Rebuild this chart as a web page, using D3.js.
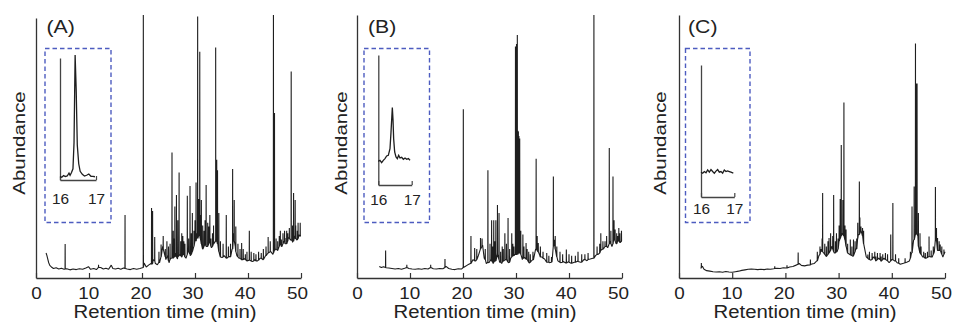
<!DOCTYPE html>
<html><head><meta charset="utf-8">
<script src="https://cdn.jsdelivr.net/npm/d3@7"></script>
<style>
body{margin:0;background:#fff}
svg{display:block}
text{font-family:"Liberation Sans",Arial,Helvetica,sans-serif;fill:#222}
</style>
</head><body>
<svg id="chart" width="953" height="323"></svg>
<script>
// ---------------- DATA ----------------
const panelLabels = ["(A)", "(B)", "(C)"];
const xTicks = [0, 10, 20, 30, 40, 50];
const insetTicks = [16, 17];
const xTitle = "Retention time (min)";
const yTitle = "Abundance";

// baseline traces [time (min), abundance %]
const baselineA = [[1.9,9.5],[2.05,8.6],[2.2,7.4],[2.4,5.8],[2.6,4.8],[2.9,4.2],[3.3,3.6],[3.8,3.9],[4.3,3.4],[4.8,3.7],[5.3,3.3],[5.8,3.5],[6.4,3.1],[7.0,3.4],[7.6,3.2],[8.2,3.5],[8.8,3.3],[9.4,3.8],[9.9,4.3],[10.3,3.3],[10.9,3.6],[11.4,3.2],[11.8,4.6],[12.2,4.0],[12.7,3.4],[13.2,3.7],[13.7,3.3],[14.2,4.9],[14.5,3.6],[15.0,3.4],[15.5,3.7],[16.0,3.3],[16.5,3.8],[17.2,3.4],[17.8,3.2],[18.4,3.6],[19.0,3.3],[19.6,3.6],[20.4,5.7],[20.8,4.2],[21.3,5.0],[21.7,5.5],[22.1,7.0],[22.5,5.6],[22.9,5.0],[23.3,5.8],[23.6,10.5],[23.9,12.0],[24.2,9.5],[24.5,7.0],[24.8,8.5],[25.1,5.8],[25.4,7.5],[25.8,8.0],[26.3,9.5],[26.7,7.2],[27.1,9.0],[27.5,8.0],[27.9,9.5],[28.3,7.5],[28.7,11.5],[29.1,8.5],[29.5,10.0],[29.8,12.5],[30.1,15.5],[30.4,17.0],[30.8,18.0],[31.1,14.0],[31.5,11.0],[31.9,13.0],[32.3,12.0],[32.7,14.5],[33.1,11.5],[33.5,13.0],[33.9,15.0],[34.3,13.0],[34.7,8.5],[35.1,7.8],[35.5,8.5],[36.0,7.5],[36.5,8.2],[37.0,11.0],[37.3,17.0],[37.6,12.0],[37.9,8.5],[38.3,7.5],[38.8,6.8],[39.3,7.4],[39.8,6.5],[40.3,6.8],[40.8,6.3],[41.3,7.0],[41.8,6.5],[42.3,7.5],[42.8,7.0],[43.3,8.5],[43.8,9.5],[44.3,10.0],[44.7,9.0],[45.2,11.0],[45.6,10.5],[46.0,13.5],[46.4,12.0],[46.8,14.0],[47.2,13.0],[47.6,15.5],[48.0,14.5],[48.4,13.5],[48.8,16.0],[49.2,14.5],[49.6,16.5],[50.0,16.0]];
const baselineB = [[4.2,4.4],[4.6,4.0],[5.0,4.3],[5.5,3.9],[6.0,3.8],[6.6,3.6],[7.2,3.4],[7.8,3.6],[8.4,3.3],[9.0,3.7],[9.4,4.6],[9.8,3.6],[10.4,3.4],[11.0,3.3],[11.6,3.5],[12.2,3.3],[12.8,3.6],[13.4,3.4],[13.9,4.2],[14.4,3.5],[15.0,3.4],[15.6,3.6],[16.2,3.5],[16.8,4.4],[17.3,3.6],[17.9,3.3],[18.5,3.2],[19.1,3.5],[19.7,3.4],[20.4,4.4],[20.9,5.0],[21.4,5.5],[21.9,7.0],[22.4,6.5],[22.9,8.5],[23.3,11.5],[23.7,12.5],[24.0,7.5],[24.4,5.5],[24.9,5.8],[25.3,7.0],[25.7,5.5],[26.1,6.5],[26.5,9.5],[26.9,6.0],[27.3,5.5],[27.7,6.5],[28.1,7.0],[28.6,5.8],[29.0,7.5],[29.4,8.5],[29.8,9.0],[30.3,9.5],[30.8,9.5],[31.2,7.0],[31.6,7.8],[32.0,7.2],[32.5,5.7],[32.9,6.5],[33.3,7.0],[33.7,11.0],[34.1,10.0],[34.5,8.5],[34.9,8.0],[35.4,7.2],[35.8,6.0],[36.3,5.8],[36.8,6.2],[37.2,14.5],[37.5,10.0],[37.9,6.5],[38.4,5.8],[38.9,6.3],[39.4,5.7],[39.9,6.2],[40.4,5.6],[41.0,6.0],[41.6,6.4],[42.2,6.0],[42.8,7.0],[43.4,6.6],[44.0,7.2],[44.5,7.5],[45.0,8.5],[45.5,9.0],[46.0,10.5],[46.5,11.0],[46.9,12.0],[47.3,11.5],[47.7,14.0],[48.1,12.0],[48.5,15.5],[48.9,13.0],[49.3,14.5],[49.7,13.5],[50.0,14.0]];
const baselineC = [[4.1,3.6],[4.2,5.0],[4.4,4.5],[4.7,3.3],[5.2,2.8],[5.8,2.6],[6.4,2.4],[7.0,2.3],[7.6,2.4],[8.2,2.2],[8.8,2.5],[9.4,2.3],[10.0,2.2],[10.6,2.4],[11.2,2.6],[11.8,2.9],[12.4,3.1],[13.0,3.3],[13.6,3.4],[14.2,3.3],[14.8,3.2],[15.4,3.3],[16.0,3.2],[16.6,3.4],[17.2,3.3],[17.8,3.5],[18.4,3.7],[19.0,3.6],[19.6,3.9],[20.2,3.8],[20.8,4.2],[21.4,4.4],[21.9,4.8],[22.6,5.5],[23.0,4.8],[23.6,4.6],[24.2,4.9],[24.8,5.2],[25.4,5.5],[25.9,6.5],[26.3,8.5],[26.7,11.0],[27.2,9.5],[27.7,8.2],[28.2,9.5],[28.7,12.0],[29.2,9.5],[29.7,10.0],[30.2,14.5],[30.7,17.0],[31.2,14.5],[31.7,9.5],[32.2,8.8],[32.7,8.2],[33.2,11.0],[33.7,16.5],[34.2,18.0],[34.7,13.0],[35.2,8.0],[35.6,7.2],[36.0,6.8],[36.5,8.0],[37.0,6.5],[37.5,7.6],[38.0,6.4],[38.5,7.5],[39.0,6.8],[39.5,5.8],[40.0,7.0],[40.5,6.5],[41.0,5.8],[41.6,5.2],[42.2,5.6],[42.8,6.0],[43.3,6.5],[43.7,9.5],[44.1,14.5],[44.5,17.0],[44.9,16.0],[45.3,9.5],[45.8,8.0],[46.4,7.5],[47.0,8.2],[47.6,8.0],[48.0,10.0],[48.3,14.5],[48.6,10.5],[49.1,10.5],[49.6,8.0],[50.0,10.0]];

// peaks [time (min), base abundance, apex abundance]
const peaksA = [[5.5,3.4,12.9],[11.8,4.0,5.0],[16.8,3.6,24.0],[20.25,4.0,100],[21.8,5.2,26.6],[22.0,5.5,25.5],[22.4,6.5,15.6],[23.2,6,10],[23.6,8,12.7],[24.0,11,16],[24.4,8,11],[24.7,8,14],[25.0,6.5,12],[25.3,7,13],[25.66,7.5,47.7],[25.9,7.5,18],[26.0,8,15],[26.2,8,27.2],[26.5,8,31.6],[26.75,8,22],[27.0,8.5,40.1],[27.3,8.5,14],[27.5,8,17],[27.7,9,16],[27.9,9,14],[28.1,8,13],[28.55,9,31.3],[28.8,10,15],[29.06,9,35],[29.3,9,17],[29.5,10,24.7],[29.8,12,18],[30.0,14,22],[30.2,14,36.3],[30.5,15,99.4],[30.7,16,30],[30.9,16,86],[31.0,15,24],[31.2,13,29.7],[31.45,11,20],[31.7,12,18],[31.9,13,22],[32.1,12,35.4],[32.4,12,21],[32.6,13,19.6],[32.8,14,24],[33.0,12,15],[33.3,12,17],[33.5,13,20],[33.9,14,87.6],[34.1,14,45],[34.25,13,41],[34.5,10,24.7],[34.8,8,14],[35.3,8,13],[35.9,7.5,24],[36.3,8,12],[36.7,8,13],[37.1,11,41.4],[37.4,14,29.7],[37.7,10,19.6],[38.1,8,13],[38.5,7.5,11],[38.8,7,13.3],[39.1,7,11],[39.5,7,9],[39.8,6.5,10],[40.25,6.8,18],[40.6,6.5,10],[41.1,6.5,9.5],[41.5,6.5,9],[42.0,6.8,10],[42.5,7.5,9.5],[42.9,7,11],[43.4,8.5,12],[43.8,9.5,15.6],[44.2,10,14],[44.8,9.5,100],[45.0,10.5,62.7],[45.3,11,15],[45.6,10.5,14],[45.9,12,16],[46.1,13,18],[46.3,12,14.6],[46.6,13,17],[46.9,14,18],[47.0,13,15.2],[47.3,13,18],[47.5,14,17],[47.8,15,19],[48.15,14.5,78.5],[48.4,14,20],[48.6,14,32.3],[48.9,15,29.7],[49.0,15,20],[49.3,14.5,18],[49.45,15,21],[49.6,16,16.5],[49.85,16,21]];
const peaksB = [[5.4,4,10.5],[9.4,4,5],[13.9,4,5],[16.6,4,7.2],[20.06,4,64.2],[21.5,5.5,16],[22.2,6.5,11.4],[22.6,7,11],[23.3,11,15.2],[23.6,12,15],[24.2,7,11],[24.7,6,41],[25.1,6.5,13],[25.4,6.5,22],[25.6,6,12],[25.8,6,22],[26.0,6.5,14],[26.2,6.5,22],[26.5,9,27.8],[26.8,7,24.7],[27.1,6,10],[27.4,6,12],[27.6,6.5,11],[27.9,6.8,17],[28.2,7,13],[28.5,6,22.8],[28.8,6,11],[29.2,8,17],[29.4,8.5,13],[29.6,8.5,12],[29.9,9,88],[30.1,9,89],[30.25,9,92.4],[30.35,9,56],[30.45,9.5,55.7],[30.55,9.5,54],[30.7,9.5,53],[30.9,9,18],[31.3,7.5,16.5],[31.5,7.5,12],[31.9,7.2,13.3],[32.1,7,11],[32.4,6,10],[32.7,6,9],[33.2,7,10],[33.8,11,45.3],[34.0,10.5,16],[34.2,10,13.3],[34.6,8,12],[35.1,7.5,10],[35.8,6,9.5],[36.2,6,8.5],[36.7,6,8],[37.05,12,38.6],[37.4,11,16],[37.7,8,12],[38.3,6,10],[38.8,6,9],[39.5,5.7,10.8],[40.0,6,9],[40.5,5.6,8.5],[41.2,6,8.5],[41.7,6.3,10],[42.4,6,9],[43.0,7,9],[43.6,7,9.5],[44.7,7.5,100],[45.3,9,12],[45.8,9.5,13],[46.0,10.5,17],[46.4,11,14],[46.8,12,14],[47.1,12,16],[47.6,13,49.4],[47.9,13,18],[48.3,13,38.6],[48.5,15.5,22],[48.7,14,18.4],[49.0,13,17],[49.2,14,16],[49.4,14,19],[49.6,13.5,17],[49.9,14,18]];
const peaksC = [[4.2,4,5.7],[18.0,3.6,4.5],[20.3,3.8,4.8],[22.4,5.2,9.7],[24.7,5,7],[26.0,6.5,10],[26.5,9,12],[26.9,10,15],[27.0,10,32.3],[27.4,9,13],[27.7,8.2,12],[28.0,9,14],[28.2,9.5,15.2],[28.5,10.5,17],[28.9,11,16],[29.07,10,31.6],[29.4,9.5,14],[29.6,10,17],[29.9,11,15],[30.1,14,20],[30.3,15,30],[30.5,16,50.6],[30.8,16.5,29.7],[31.0,16,66.7],[31.2,14.5,20],[31.4,12,18.4],[31.7,9.5,13],[32.2,8.8,14.6],[32.5,8.5,12],[32.8,8.5,14.6],[33.1,10,14],[33.4,11,15],[33.6,15,21],[33.9,16.5,36.7],[34.0,17,23],[34.2,18,19.6],[34.5,16,19],[34.7,13,18],[35.5,7.5,8.9],[35.8,7,10],[36.3,7,9.5],[36.8,7.5,10],[37.0,6.5,8.2],[37.3,7,9.5],[37.8,7,9.5],[38.0,6.4,8.2],[38.3,7,9],[38.8,7,9.5],[39.2,6.5,9],[39.8,6.5,16.5],[40.2,7,28.5],[40.7,6.5,9],[41.3,5.6,7.5],[42.5,5.8,7.5],[43.5,7.5,10],[43.8,9.5,27.2],[44.2,14.5,34.8],[44.45,16.5,89.2],[44.55,17,74],[44.65,17,74],[44.75,16.5,74],[45.0,12,24.7],[45.3,9.5,17],[45.5,9,12],[46.0,8,10],[46.3,7.5,9.5],[46.7,7.8,10],[47.0,8.2,15.8],[47.4,8,10.5],[47.8,9,12],[48.2,14.5,34.6],[48.4,14,19],[48.6,10.5,15.2],[48.9,10.5,14],[49.1,10.5,12.7],[49.4,9,12],[49.8,9,10.8]];

// inset traces (16–17 min), [time, relative abundance %]
const insetA = [[16.00,2.7],[16.05,2.2],[16.10,3.5],[16.15,2.8],[16.20,3.2],[16.25,5.5],[16.28,3.8],[16.32,6.0],[16.36,9.0],[16.39,30],[16.42,100],[16.45,72],[16.48,28],[16.52,13],[16.56,7],[16.62,4.5],[16.68,3.2],[16.74,3.8],[16.80,4.8],[16.86,3.0],[16.92,2.9],[16.97,2.6]];
const insetB = [[16.00,18.2],[16.05,19.0],[16.10,17.2],[16.15,19.0],[16.20,20.3],[16.25,22.3],[16.30,22.8],[16.35,27.9],[16.38,40.5],[16.42,59.5],[16.44,50.6],[16.46,35.5],[16.49,25.4],[16.53,21.6],[16.57,20.3],[16.61,22.8],[16.65,20.8],[16.70,21.3],[16.75,19.8],[16.80,20.8],[16.85,19.8],[16.90,20.3],[16.95,19.0]];
const insetC = [[16.00,18.8],[16.05,18.0],[16.10,19.3],[16.15,18.3],[16.20,20.5],[16.25,18.8],[16.30,20.8],[16.35,19.3],[16.40,18.0],[16.45,19.6],[16.50,20.8],[16.55,18.8],[16.60,19.3],[16.65,18.1],[16.70,20.5],[16.75,19.3],[16.80,19.8],[16.85,19.3],[16.90,18.8],[16.97,18.1]];

const baselines = [baselineA, baselineB, baselineC];
const peaks = [peaksA, peaksB, peaksC];
const insets = [insetA, insetB, insetC];

// ---------------- LAYOUT ----------------
const layout = [
  {x0:36,  x1:301, axisTop:18, yLab:[25,143],  xLabC:165, tag:[46.5,33],
   box:[45,48.5,66,174],   ix0:60,    ix1:96,    iyb:180, iyt:55, iaxTop:58, ilab:204},
  {x0:357, x1:622, axisTop:15, yLab:[346.5,143], xLabC:485, tag:[368,33],
   box:[364,48.5,65.5,174], ix0:378.3, ix1:411.7, iyb:185, iyt:55, iaxTop:55, ilab:205},
  {x0:679, x1:945, axisTop:15, yLab:[666,143], xLabC:805, tag:[688,33],
   box:[685.5,48.5,64.5,174], ix0:701, ix1:734.3, iyb:197, iyt:65, iaxTop:65, ilab:214}
];
const yBottom = 278, yTopData = 15;
const traceColor = "#1e1e1e";
const axisColor = "#333";

const svg = d3.select("#chart");

layout.forEach((L, i) => {
  const g = svg.append("g");
  const x = d3.scaleLinear().domain([0, 50]).range([L.x0, L.x1]);
  const y = d3.scaleLinear().domain([0, 100]).range([yBottom, yTopData]);

  // trace = baseline points + narrow spikes
  const pts = baselines[i].map(d => [d[0], d[1]]);
  peaks[i].forEach(p => {
    pts.push([p[0] - 0.02, p[1]], [p[0], p[2]], [p[0] + 0.02, p[1]]);
  });
  pts.sort((a, b) => a[0] - b[0]);
  const line = d3.line().x(d => x(d[0])).y(d => y(d[1]));
  g.append("path").datum(pts).attr("d", line)
    .attr("fill", "none").attr("stroke", traceColor)
    .attr("stroke-width", 1.1).attr("stroke-linejoin", "miter").attr("stroke-miterlimit", 1);

  // x axis
  const xa = d3.axisBottom(x).tickValues(xTicks).tickSizeInner(-5).tickSizeOuter(0).tickPadding(10);
  const gx = g.append("g").attr("transform", `translate(0,${yBottom})`).call(xa);
  gx.select(".domain").attr("stroke", axisColor).attr("stroke-width", 1.3);
  gx.selectAll(".tick line").attr("stroke", axisColor).attr("stroke-width", 1.2);
  gx.selectAll(".tick text").attr("font-size", 16).attr("fill", "#222")
    .attr("font-family", "Liberation Sans, Arial, sans-serif")
    .attr("transform", d => `translate(${-d / 50 * 4},0) scale(1.18,1)`)
    .attr("x", 0).attr("y", 21).attr("dy", 0);

  // y axis (no ticks)
  const ya = d3.scaleLinear().domain([0, 1]).range([yBottom, L.axisTop]);
  const gy = g.append("g").attr("transform", `translate(${L.x0},0)`)
    .call(d3.axisLeft(ya).tickValues([]).tickSizeOuter(0));
  gy.select(".domain").attr("stroke", axisColor).attr("stroke-width", 1.3);

  // titles
  g.append("text").attr("transform", `translate(${L.xLabC},318) scale(1.13,1)`)
    .attr("text-anchor", "middle").attr("font-size", 18).text(xTitle);
  g.append("text").attr("transform", `translate(${L.yLab[0]},${L.yLab[1]}) rotate(-90) scale(1.24,1)`)
    .attr("text-anchor", "middle").attr("font-size", 16.5).text(yTitle);
  g.append("text").attr("transform", `translate(${L.tag[0]},${L.tag[1]}) scale(1.18,1)`)
    .attr("font-size", 18).text(panelLabels[i]);

  // inset
  const b = L.box;
  g.append("rect").attr("x", b[0]).attr("y", b[1]).attr("width", b[2]).attr("height", b[3])
    .attr("fill", "none").attr("stroke", "#4d5cc0").attr("stroke-width", 1.4)
    .attr("stroke-dasharray", "4.5,3");
  const ix = d3.scaleLinear().domain([16, 17]).range([L.ix0, L.ix1]);
  const iy = d3.scaleLinear().domain([0, 100]).range([L.iyb, L.iyt]);
  const ig = g.append("g");
  const ixa = d3.axisBottom(ix).tickValues(insetTicks).tickFormat(d3.format("d"))
    .tickSizeInner(-4).tickSizeOuter(0).tickPadding(6);
  const gix = ig.append("g").attr("transform", `translate(0,${L.iyb})`).call(ixa);
  gix.select(".domain").attr("stroke", "#444").attr("stroke-width", 1.3);
  gix.selectAll(".tick line").attr("stroke", "#444").attr("stroke-width", 1.2);
  gix.selectAll(".tick text").attr("font-size", 14).attr("fill", "#222")
    .attr("font-family", "Liberation Sans, Arial, sans-serif")
    .attr("transform", "scale(1.1,1)")
    .attr("y", L.ilab - L.iyb).attr("dy", 0);
  const iya = d3.scaleLinear().domain([0, 1]).range([L.iyb, L.iaxTop]);
  const giy = ig.append("g").attr("transform", `translate(${L.ix0},0)`)
    .call(d3.axisLeft(iya).tickValues([]).tickSizeOuter(0));
  giy.select(".domain").attr("stroke", "#444").attr("stroke-width", 1.3);
  const iline = d3.line().x(d => ix(d[0])).y(d => iy(d[1]));
  ig.append("path").datum(insets[i]).attr("d", iline)
    .attr("fill", "none").attr("stroke", "#1e1e1e").attr("stroke-width", 1.3);
});
</script>
</body></html>
